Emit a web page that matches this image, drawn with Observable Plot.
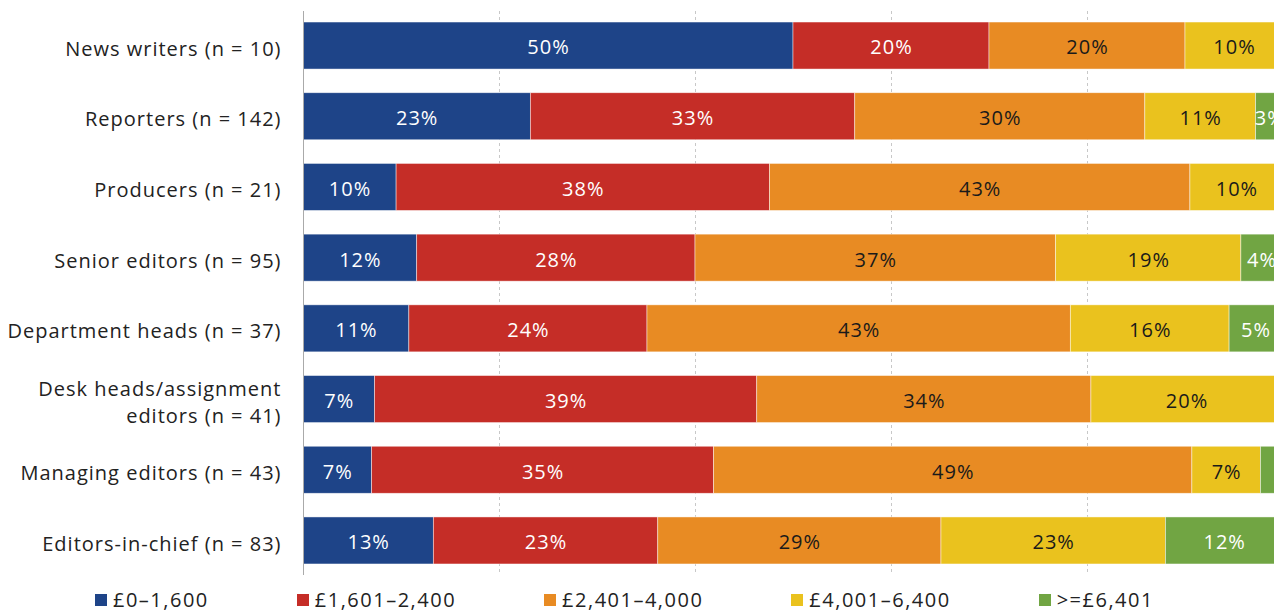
<!DOCTYPE html>
<html>
<head>
<meta charset="utf-8">
<script src="https://cdn.jsdelivr.net/npm/d3@7"></script>
<script src="https://cdn.jsdelivr.net/npm/@observablehq/plot@0.6"></script>
<style>
  html, body { margin: 0; padding: 0; background: #fff; overflow: hidden; }
  body { font-family: "Open Sans", sans-serif; width: 1274px; height: 610px; }
  #legend { position: absolute; top: 588px; left: 95px; display: flex; gap: 88px; font-size: 20px; line-height: 24px; color: #222; white-space: nowrap; letter-spacing: 1.5px; }
  #legend .item { display: flex; align-items: center; }
  #legend .sw { width: 12px; height: 12px; margin-right: 6px; display: inline-block; }
</style>
</head>
<body>
<div id="chart"></div>
<div id="legend"></div>
<script>
const categories = [
  "News writers (n = 10)",
  "Reporters (n = 142)",
  "Producers (n = 21)",
  "Senior editors (n = 95)",
  "Department heads (n = 37)",
  "Desk heads/assignment editors (n = 41)",
  "Managing editors (n = 43)",
  "Editors-in-chief (n = 83)"
];
const categoryLabels = [
  "News writers (n = 10)",
  "Reporters (n = 142)",
  "Producers (n = 21)",
  "Senior editors (n = 95)",
  "Department heads (n = 37)",
  "Desk heads/assignment\neditors (n = 41)",
  "Managing editors (n = 43)",
  "Editors-in-chief (n = 83)"
];
const seriesNames = ["£0–1,600", "£1,601–2,400", "£2,401–4,000", "£4,001–6,400", ">=£6,401"];
const seriesColors = ["#1e4488", "#c52d27", "#e88b23", "#eac21e", "#71a543"];
const labelColors = ["#ffffff", "#ffffff", "#1a1a1a", "#1a1a1a", "#ffffff"];

// percentages per salary band, in category order
const band0_1600    = [50.0, 23.2,  9.5, 11.6, 10.8,  7.3,  7.0, 13.3];
const band1601_2400 = [20.0, 33.1, 38.1, 28.4, 24.3, 39.0, 34.9, 22.9];
const band2401_4000 = [20.0, 29.6, 42.9, 36.8, 43.2, 34.1, 48.8, 28.9];
const band4001_6400 = [10.0, 11.3,  9.5, 18.9, 16.2, 19.5,  7.0, 22.9];
const band6401plus  = [ 0.0,  2.8,  0.0,  4.2,  5.4,  0.0,  2.3, 12.0];
const seriesValues = [band0_1600, band1601_2400, band2401_4000, band4001_6400, band6401plus];

const data = [];
categories.forEach((c, i) => {
  seriesNames.forEach((s, j) => {
    data.push({cat: c, series: s, si: j, value: seriesValues[j][i] / 100});
  });
});
const labelMap = new Map(categories.map((c, i) => [c, categoryLabels[i]]));

const chart = Plot.plot({
  width: 1274,
  height: 580,
  marginLeft: 303,
  marginRight: -9,
  marginTop: 11,
  marginBottom: 5,
  style: {fontFamily: "Open Sans, sans-serif", fontSize: "20px", color: "#222", overflow: "hidden", letterSpacing: "1px"},
  x: {domain: [0, 1], axis: null},
  y: {domain: categories, paddingInner: 0.335, paddingOuter: 0.156, round: false, axis: null, label: null},
  color: {domain: seriesNames, range: seriesColors},
  marks: [
    Plot.gridX([0.2, 0.4, 0.6, 0.8, 1], {stroke: "#c8c8c8", strokeOpacity: 1, strokeDasharray: "3,3"}),
    Plot.barX(data, Plot.stackX({x: "value", y: "cat", fill: "series", order: null, stroke: "#ffffff", strokeOpacity: 0.6, strokeWidth: 0.75})),
    Plot.text(data, Plot.stackX({
      x: "value", y: "cat", z: "series", order: null,
      text: d => Math.round(d.value * 100) >= 3 ? Math.round(d.value * 100) + "%" : "",
      fill: d => labelColors[d.si],
      fontSize: 20,
      dy: 2
    })),
    Plot.ruleX([0], {stroke: "#aaaaaa", strokeWidth: 1}),
    Plot.axisY({tickSize: 0, tickPadding: 22, fontSize: 20, lineHeight: 1.35, fill: "#222", label: null, dy: 1, tickFormat: d => labelMap.get(d)})
  ]
});
document.getElementById("chart").appendChild(chart);

const legend = document.getElementById("legend");
seriesNames.forEach((s, i) => {
  const item = document.createElement("div");
  item.className = "item";
  const sw = document.createElement("span");
  sw.className = "sw";
  sw.style.background = seriesColors[i];
  const t = document.createElement("span");
  t.textContent = s;
  item.appendChild(sw);
  item.appendChild(t);
  legend.appendChild(item);
});
</script>
</body>
</html>
